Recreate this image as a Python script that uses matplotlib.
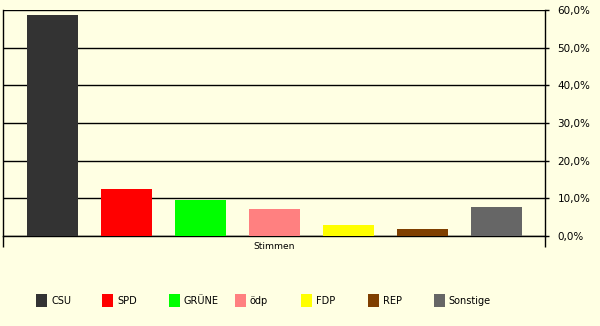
import matplotlib
matplotlib.use('Agg')
import matplotlib.pyplot as plt
from matplotlib.patches import Rectangle

parties = ['CSU', 'SPD', 'GRÜNE', 'ödp', 'FDP', 'REP', 'Sonstige']
shares = [58.7, 12.5, 9.6, 7.2, 2.9, 1.9, 7.7]
colors = ['#333333', '#ff0000', '#00ff00', '#ff8080', '#ffff00', '#7f3f00', '#666666']
yticks = [0, 10, 20, 30, 40, 50, 60]
ylabels = ['0,0%', '10,0%', '20,0%', '30,0%', '40,0%', '50,0%', '60,0%']
category = 'Stimmen'

bg = '#ffffe3'
plt.rcParams['font.family'] = ['DejaVu Sans']

fig = plt.figure(figsize=(6, 3.26), dpi=100, facecolor=bg)
ax = fig.add_axes([3/600, 1-236/326, 542/600, 226/326])
ax.set_facecolor(bg)

x = list(range(len(parties)))
ax.bar(x, shares, width=0.69, color=colors, zorder=3)

xmin, xmax = -0.669, 6.655
ax.set_xlim(xmin, xmax)
ax.set_ylim(0, 60)

ax.set_yticks(yticks)
ax.set_yticklabels(ylabels)
ax.yaxis.tick_right()
ax.tick_params(axis='y', direction='out', length=3, width=1, pad=6, labelsize=7.5, color='black')
for yv in yticks:
    ax.axhline(yv, color='black', lw=1, zorder=2)

ax.set_xticks([(xmin + xmax) / 2])
ax.set_xticklabels([category])
ax.set_xticks([xmin, xmax], minor=True)
ax.tick_params(axis='x', which='major', length=0, pad=4, labelsize=6.6)
ax.tick_params(axis='x', which='minor', length=8, width=1, color='black')

for s in ['left', 'right', 'bottom']:
    ax.spines[s].set_color('black')
    ax.spines[s].set_linewidth(1)
ax.spines['top'].set_visible(False)

# legend row
for i, (p, c) in enumerate(zip(parties, colors)):
    lx = 36 + i * 66.3
    fig.patches.append(Rectangle((lx / 600, 1 - 307/326), 11/600, 13/326,
                                 transform=fig.transFigure, facecolor=c, edgecolor='none'))
    fig.text((lx + 15) / 600, 1 - 301/326, p, fontsize=7, va='center', ha='left')

fig.savefig('out.png', dpi=100, facecolor=bg)
